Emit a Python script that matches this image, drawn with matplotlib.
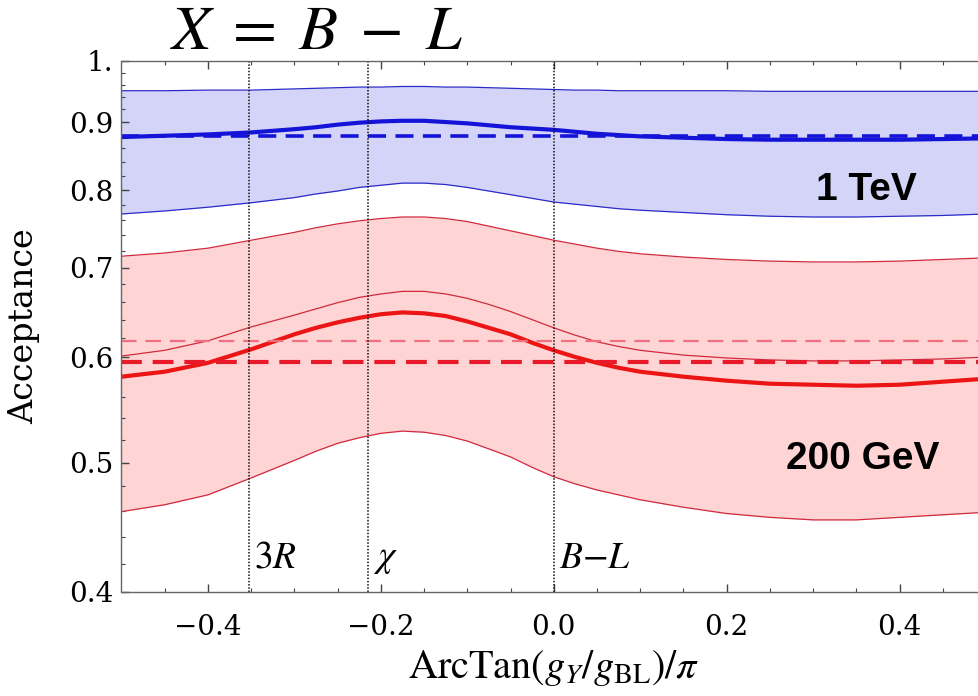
import matplotlib
matplotlib.use("Agg")
import matplotlib.pyplot as plt
from matplotlib.ticker import FixedLocator, FixedFormatter, NullFormatter

plt.rcParams["mathtext.fontset"] = "stix"
plt.rcParams["font.family"] = ["DejaVu Serif"]

# ArcTan(gY/gBL)/pi sampling (finer around the bump)
x = [-0.5, -0.45, -0.4, -0.35, -0.3, -0.275, -0.25, -0.225, -0.2, -0.175, -0.15,
     -0.125, -0.1, -0.075, -0.05, -0.025, 0.0, 0.025, 0.05, 0.075, 0.1,
     0.15, 0.2, 0.25, 0.3, 0.35, 0.4, 0.45, 0.5]

# 1 TeV: central value and band edges
tev_mid = [0.877, 0.879, 0.881, 0.884, 0.889, 0.892, 0.896, 0.899, 0.901, 0.902, 0.902,
           0.900, 0.898, 0.895, 0.892, 0.890, 0.888, 0.885, 0.882, 0.880, 0.878,
           0.876, 0.874, 0.873, 0.873, 0.873, 0.873, 0.874, 0.875]
tev_hi = [0.950, 0.950, 0.951, 0.951, 0.953, 0.954, 0.955, 0.956, 0.956, 0.957, 0.957,
          0.956, 0.956, 0.955, 0.954, 0.953, 0.952, 0.951, 0.951, 0.950, 0.950,
          0.950, 0.950, 0.949, 0.949, 0.949, 0.949, 0.949, 0.949]
tev_lo = [0.768, 0.772, 0.777, 0.783, 0.790, 0.795, 0.799, 0.804, 0.807, 0.810, 0.810,
          0.808, 0.804, 0.799, 0.794, 0.789, 0.784, 0.781, 0.778, 0.775, 0.773,
          0.770, 0.767, 0.765, 0.764, 0.764, 0.765, 0.766, 0.768]
tev_ref = 0.879

# 200 GeV: central value, second curve and band edges
gev_mid = [0.580, 0.585, 0.594, 0.608, 0.624, 0.631, 0.637, 0.642, 0.646, 0.648, 0.647,
           0.644, 0.638, 0.631, 0.624, 0.615, 0.607, 0.600, 0.594, 0.589, 0.585,
           0.580, 0.576, 0.573, 0.572, 0.571, 0.572, 0.575, 0.578]
gev_alt = [0.601, 0.607, 0.617, 0.632, 0.645, 0.652, 0.659, 0.665, 0.669, 0.672, 0.672,
           0.669, 0.664, 0.657, 0.649, 0.640, 0.631, 0.623, 0.616, 0.611, 0.607,
           0.602, 0.599, 0.597, 0.596, 0.596, 0.597, 0.598, 0.600]
gev_hi = [0.714, 0.718, 0.724, 0.734, 0.744, 0.750, 0.755, 0.759, 0.762, 0.764, 0.764,
          0.762, 0.758, 0.752, 0.746, 0.740, 0.734, 0.729, 0.724, 0.720, 0.717,
          0.713, 0.710, 0.708, 0.707, 0.707, 0.708, 0.710, 0.712]
gev_lo = [0.4595, 0.465, 0.473, 0.487, 0.502, 0.510, 0.517, 0.522, 0.526, 0.528, 0.527,
          0.524, 0.519, 0.512, 0.505, 0.496, 0.488, 0.482, 0.477, 0.473, 0.469,
          0.463, 0.458, 0.455, 0.453, 0.453, 0.455, 0.457, 0.459]
gev_ref = 0.5946
gev_ref_alt = 0.6172

# benchmark models
models = [r"$3R$", r"$\chi$", r"$B{-}L$"]
model_x = [-0.3524, -0.2148, 0.0]

fig = plt.figure(figsize=(9.79, 6.96), dpi=100)
ax = fig.add_axes([121.5 / 979, 104 / 696, 864.5 / 979, 531 / 696])
ax.set_yscale("log")

blue_fill, red_fill = "#d4d4f8", "#ffd4d4"
ax.fill_between(x, tev_lo, tev_hi, color=blue_fill, lw=0)
ax.fill_between(x, gev_lo, gev_hi, color=red_fill, lw=0)

for yy in (tev_hi, tev_lo):
    ax.plot(x, yy, color="#2b2bc8", lw=0.9, solid_joinstyle="round")
ax.plot(x, tev_mid, color="#1414d8", lw=3.0, solid_joinstyle="round")
ax.axhline(tev_ref, color="#1414d8", lw=2.6, ls=(0, (5, 2.6)))

for yy in (gev_hi, gev_lo, gev_alt):
    ax.plot(x, yy, color="#d02a3c", lw=0.9, solid_joinstyle="round")
ax.plot(x, gev_mid, color="#ec1515", lw=3.0, solid_joinstyle="round")
ax.axhline(gev_ref_alt, color="#f07080", lw=1.6, ls=(0, (7, 4)))
ax.axhline(gev_ref, color="#e81a2a", lw=3.0, ls=(0, (5, 2.6)))

for name, xm in zip(models, model_x):
    ax.axvline(xm, color="#111111", lw=1.1, ls=(0, (1, 1.1)))
    ax.text(xm + 0.006, 0.4245, name, fontsize=27, ha="left", va="center")

ax.text(0.362, 0.800, "1 TeV", fontsize=28, fontweight="bold",
        family="Liberation Sans", ha="center", va="center")
ax.text(0.357, 0.503, "200 GeV", fontsize=28, fontweight="bold",
        family="Liberation Sans", ha="center", va="center")

ax.set_xlim(-0.5, 0.5)
ax.set_ylim(0.4, 1.0)

x_major = [-0.4, -0.2, 0.0, 0.2, 0.4]
x_minor = [-0.45, -0.35, -0.3, -0.25, -0.15, -0.1, -0.05, 0.05, 0.1, 0.15,
           0.25, 0.3, 0.35, 0.45]
ax.xaxis.set_major_locator(FixedLocator(x_major))
ax.xaxis.set_major_formatter(FixedFormatter(["\u22120.4", "\u22120.2", "0.0", "0.2", "0.4"]))
ax.xaxis.set_minor_locator(FixedLocator(x_minor))

y_major = [0.4, 0.5, 0.6, 0.7, 0.8, 0.9, 1.0]
y_minor = [round(0.42 + 0.02 * i, 2) for i in range(29)]
y_minor = [v for v in y_minor if round(v * 10, 6) % 1 != 0]
ax.yaxis.set_major_locator(FixedLocator(y_major))
ax.yaxis.set_major_formatter(FixedFormatter(["0.4", "0.5", "0.6", "0.7", "0.8", "0.9", "1."]))
ax.yaxis.set_minor_locator(FixedLocator(y_minor))
ax.yaxis.set_minor_formatter(NullFormatter())

ax.tick_params(which="both", direction="in", top=True, right=False, colors="#444444",
               labelcolor="black", labelsize=20)
ax.tick_params(which="major", length=6, width=1.0)
ax.tick_params(which="minor", length=3, width=0.8)
ax.tick_params(axis="x", pad=16)
ax.tick_params(axis="y", pad=6)
for side in ("left", "bottom", "top"):
    ax.spines[side].set_color("#666666")
    ax.spines[side].set_linewidth(1.0)
ax.spines["right"].set_visible(False)

ax.set_ylabel("Acceptance", fontsize=24)
ax.yaxis.set_label_coords(-0.094, 0.50)
ax.set_xlabel(r"$\mathrm{ArcTan}(g_Y/g_{\mathrm{BL}})/\pi$", fontsize=29, labelpad=5)

fig.text(317 / 979, 1 - 31 / 696, r"$X\;=\;B\;-\;L$", fontsize=46, ha="center", va="center")

fig.savefig("out.png", dpi=100)
